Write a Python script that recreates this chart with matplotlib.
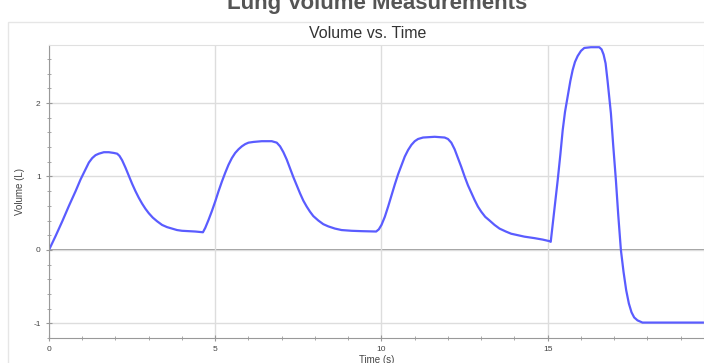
import matplotlib
matplotlib.use("Agg")
import matplotlib.pyplot as plt
from matplotlib.ticker import MultipleLocator
from matplotlib.patches import Rectangle

# data (4 breaths, the last one a full vital capacity manoeuvre)
time_s = [0, 0.2, 0.4, 0.6, 0.8, 0.95, 1.1, 1.2, 1.3, 1.4, 1.5, 1.65, 1.8, 1.95, 2.05,
          2.12, 2.2, 2.3, 2.4, 2.5, 2.6, 2.7, 2.8, 2.9, 3.0, 3.12, 3.25, 3.4, 3.55, 3.7,
          3.85, 4.0, 4.2, 4.4, 4.63,
          4.7, 4.8, 4.9, 5.0, 5.1, 5.2, 5.3, 5.4, 5.5, 5.6, 5.7, 5.8, 5.9, 6.0, 6.15,
          6.4, 6.7, 6.85, 6.95, 7.05, 7.15, 7.25, 7.35, 7.45, 7.55, 7.65, 7.75, 7.85,
          7.95, 8.1, 8.25, 8.4, 8.6, 8.8, 9.1, 9.4, 9.84,
          9.92, 10.0, 10.1, 10.2, 10.3, 10.4, 10.5, 10.6, 10.7, 10.8, 10.9, 11.0, 11.1,
          11.25, 11.6, 11.9, 12.0, 12.1, 12.2, 12.3, 12.4, 12.5, 12.6, 12.7, 12.8, 12.9,
          13.0, 13.12, 13.25, 13.4, 13.55, 13.74, 13.9, 14.1, 14.3, 14.6, 14.85, 15.04, 15.09,
          15.15, 15.22, 15.3, 15.38, 15.45, 15.52, 15.6, 15.68, 15.75, 15.82, 15.9, 16.0,
          16.1, 16.3, 16.55, 16.62, 16.68, 16.74, 16.8, 16.9, 16.97, 17.05, 17.12, 17.2,
          17.28, 17.36, 17.44, 17.52, 17.6, 17.7, 17.85, 19.7]
volume_l = [0, 0.19, 0.39, 0.6, 0.8, 0.96, 1.1, 1.19, 1.25, 1.29, 1.31, 1.33, 1.33, 1.32, 1.31,
            1.28, 1.22, 1.12, 1.01, 0.9, 0.8, 0.71, 0.63, 0.56, 0.5, 0.44, 0.39, 0.34, 0.31, 0.29,
            0.27, 0.26, 0.255, 0.25, 0.24,
            0.3, 0.41, 0.53, 0.66, 0.8, 0.93, 1.05, 1.16, 1.25, 1.32, 1.37, 1.41, 1.44, 1.46, 1.47,
            1.48, 1.48, 1.46, 1.41, 1.33, 1.23, 1.11, 0.99, 0.88, 0.77, 0.67, 0.59, 0.52,
            0.46, 0.4, 0.35, 0.32, 0.29, 0.27, 0.26, 0.255, 0.25,
            0.28, 0.34, 0.45, 0.59, 0.74, 0.89, 1.03, 1.15, 1.27, 1.36, 1.43, 1.48, 1.51,
            1.53, 1.54, 1.53, 1.51, 1.46, 1.37, 1.25, 1.13, 1.0, 0.88, 0.78, 0.68, 0.59,
            0.52, 0.45, 0.4, 0.34, 0.29, 0.25, 0.22, 0.2, 0.18, 0.16, 0.14, 0.12, 0.11,
            0.35, 0.62, 0.95, 1.3, 1.63, 1.88, 2.09, 2.3, 2.45, 2.56, 2.64, 2.71,
            2.75, 2.76, 2.76, 2.73, 2.66, 2.54, 2.3, 1.86, 1.42, 0.95, 0.48, 0.0,
            -0.3, -0.55, -0.73, -0.85, -0.92, -0.96, -0.99, -0.99]

W, H = 704, 363
plt.rcParams['font.family'] = ['Liberation Sans', 'DejaVu Sans']
plt.rcParams['axes.unicode_minus'] = False
fig = plt.figure(figsize=(W / 100, H / 100), dpi=100)

# faint frame around the graph panel
fig.patches.append(Rectangle((8 / W, -0.1), 1.0, (H - 22) / H + 0.1, transform=fig.transFigure,
                             fill=False, edgecolor="#e6e6e6", linewidth=1))

# page title, cut off at the top edge like in the screenshot
fig.text(377 / W, 1 - 9 / H, "Lung Volume Measurements", ha="center", va="baseline",
         fontsize=16, fontweight="bold", color="#555555")
fig.text(368 / W, 1 - 34 / H, "Volume vs. Time", ha="center", va="center",
         fontsize=11.5, color="#333333")

ax = fig.add_axes([49 / W, 25 / H, (W - 49) / W, (338 - 45) / H])
ax.plot(time_s, volume_l, color="#5a5cff", linewidth=1.6,
        solid_joinstyle="round", solid_capstyle="round")

ax.set_xlim(0, 19.7)
ax.set_ylim(-1.2, 2.79)
ax.xaxis.set_major_locator(MultipleLocator(5))
ax.xaxis.set_minor_locator(MultipleLocator(1))
ax.yaxis.set_major_locator(MultipleLocator(1))
ax.yaxis.set_minor_locator(MultipleLocator(0.2))

ax.grid(True, which="major", color="#dddddd", linewidth=1)
ax.axhline(0, color="#888888", linewidth=1.2, zorder=1)

for s in ["top", "right"]:
    ax.spines[s].set_color("#e0e0e0")
for s in ["left", "bottom"]:
    ax.spines[s].set_color("#999999")

ax.tick_params(which="both", direction="inout", color="#999999", labelsize=6, labelcolor="#444444")
ax.tick_params(which="major", length=5)
ax.tick_params(which="minor", length=3)

ax.set_xlabel("Time (s)", fontsize=7, color="#444444", labelpad=1)
ax.set_ylabel("Volume (L)", fontsize=7, color="#444444", labelpad=6)

fig.savefig("out.png", dpi=100)
